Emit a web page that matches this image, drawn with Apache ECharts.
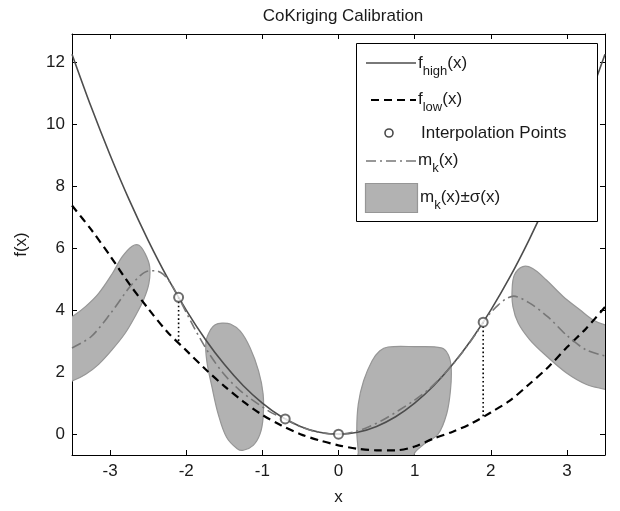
<!DOCTYPE html>
<html>
<head>
<meta charset="utf-8">
<script src="https://cdn.jsdelivr.net/npm/echarts@6/dist/echarts.min.js"></script>
<style>
  html, body { margin: 0; padding: 0; background: #fff; }
  #chart { width: 620px; height: 511px; }
</style>
</head>
<body>
<div id="chart"></div>
<script>
// x samples for the two model functions
const xGrid = [-3.5, -3.25, -3, -2.75, -2.5, -2.25, -2, -1.75, -1.5, -1.25, -1, -0.75, -0.5, -0.25, 0,
  0.25, 0.5, 0.75, 1, 1.25, 1.5, 1.75, 2, 2.25, 2.5, 2.75, 3, 3.25, 3.5];
const fHigh = [12.25, 10.56, 9.0, 7.56, 6.25, 5.06, 4.0, 3.06, 2.25, 1.56, 1.0, 0.56, 0.25, 0.06, 0,
  0.06, 0.25, 0.56, 1.0, 1.56, 2.25, 3.06, 4.0, 5.06, 6.25, 7.56, 9.0, 10.56, 12.25];
const fLow = [7.37, 6.6, 5.75, 4.85, 4.05, 3.3, 2.7, 2.1, 1.55, 1.05, 0.62, 0.28, 0.0, -0.2, -0.36,
  -0.47, -0.52, -0.52, -0.4, -0.14, 0.08, 0.35, 0.7, 1.08, 1.6, 2.15, 2.8, 3.4, 4.1];

// kriging mean
const mkX = [-3.5, -3.25, -3, -2.75, -2.6, -2.5, -2.4, -2.3, -2.2, -2.1, -1.9, -1.7, -1.5, -1.3, -1.1,
  -0.9, -0.7, -0.5, -0.3, -0.1, 0, 0.2, 0.4, 0.6, 0.8, 1.0, 1.2, 1.4, 1.6, 1.8, 1.9, 2.0, 2.1, 2.2, 2.3,
  2.5, 2.75, 3.0, 3.25, 3.5];
const mkY = [2.78, 3.14, 3.87, 4.72, 5.12, 5.26, 5.27, 5.15, 4.85, 4.41, 3.45, 2.6, 1.92, 1.42, 1.05,
  0.72, 0.49, 0.24, 0.08, 0.01, 0, 0.07, 0.24, 0.48, 0.78, 1.1, 1.48, 1.97, 2.55, 3.22, 3.61, 3.92, 4.17,
  4.36, 4.45, 4.24, 3.78, 3.18, 2.72, 2.52];

// interpolation points
const ptX = [-2.1, -0.7, 0, 1.9];
const ptY = [4.41, 0.49, 0, 3.61];

// dotted drops: x, top, bottom
const drops = [[-2.1, 4.41, 3.0], [1.9, 3.61, 0.54]];

// m_k(x) +- sigma(x) regions, outline vertices [x, y]
const band1 = [[-3.6, 3.68], [-3.49, 3.8], [-3.32, 4.12], [-3.15, 4.54], [-2.97, 5.18], [-2.84, 5.72],
  [-2.71, 6.06], [-2.62, 6.09], [-2.54, 5.82], [-2.48, 5.4], [-2.49, 4.86], [-2.56, 4.33], [-2.67, 3.8],
  [-2.8, 3.26], [-2.97, 2.73], [-3.15, 2.25], [-3.32, 1.93], [-3.49, 1.72], [-3.6, 1.66]];
const band2 = [[-1.53, 3.58], [-1.42, 3.55], [-1.29, 3.32], [-1.16, 2.78], [-1.05, 2.04], [-0.99, 1.29],
  [-0.99, 0.54], [-1.03, 0.01], [-1.12, -0.36], [-1.25, -0.52], [-1.33, -0.47], [-1.47, -0.1],
  [-1.58, 0.65], [-1.66, 1.5], [-1.73, 2.36], [-1.74, 3.0], [-1.68, 3.37], [-1.62, 3.53]];
const band3 = [[0.65, 2.81], [1.0, 2.82], [1.35, 2.78], [1.44, 2.57], [1.48, 2.14], [1.47, 1.4],
  [1.42, 0.65], [1.31, 0.01], [1.13, -0.31], [1.0, -0.6], [0.98, -0.8], [0.26, -0.8], [0.26, -0.58],
  [0.24, 0.12], [0.26, 0.97], [0.33, 1.72], [0.44, 2.36], [0.54, 2.68]];
const band4 = [[2.42, 5.4], [2.55, 5.34], [2.73, 4.97], [2.95, 4.44], [3.17, 4.01], [3.34, 3.69],
  [3.49, 3.53], [3.6, 3.5], [3.6, 1.4], [3.49, 1.45], [3.25, 1.61], [2.99, 1.98], [2.73, 2.52],
  [2.51, 3.05], [2.36, 3.58], [2.29, 4.12], [2.28, 4.65], [2.31, 5.13]];
const bands = [band1, band2, band3, band4];

const xTicks = [-3, -2, -1, 0, 1, 2, 3];
const yTicks = [0, 2, 4, 6, 8, 10, 12];

const FONT = "'Liberation Sans', Arial, sans-serif";
const pair = (xs, ys) => xs.map((x, i) => [x, ys[i]]);

const chart = echarts.init(document.getElementById("chart"));

const baseAxis = {
  type: "value",
  axisLine: { show: true, onZero: false, lineStyle: { color: "#000", width: 1 } },
  axisTick: { show: true, inside: true, length: 5, lineStyle: { color: "#000" } },
  splitLine: { show: false }
};

const legendText = (x, y, rich) => ({
  type: "text",
  x: x,
  y: y,
  style: {
    text: rich,
    verticalAlign: "middle",
    rich: {
      a: { fontFamily: FONT, fontSize: 17, fill: "#1a1a1a" },
      b: { fontFamily: FONT, fontSize: 13, fill: "#1a1a1a", padding: [16, 0, 0, 0] }
    }
  },
  z: 101
});

const option = {
  animation: false,
  backgroundColor: "#fff",
  title: {
    text: "CoKriging Calibration",
    left: 338,
    textAlign: "center",
    top: 3,
    textStyle: { fontFamily: FONT, fontSize: 17, fontWeight: "normal", color: "#1a1a1a" }
  },
  grid: { left: 72, right: 15, top: 34, bottom: 53 },
  xAxis: [
    Object.assign({}, baseAxis, {
      min: -3.5, max: 3.5,
      name: "x", nameLocation: "middle", nameGap: 34,
      nameTextStyle: { fontFamily: FONT, fontSize: 17, color: "#1a1a1a" },
      axisTick: Object.assign({}, baseAxis.axisTick, { customValues: xTicks }),
      axisLabel: { customValues: xTicks, margin: 8, fontFamily: FONT, fontSize: 17, color: "#1a1a1a" }
    }),
    Object.assign({}, baseAxis, {
      position: "top", min: -3.5, max: 3.5,
      axisTick: Object.assign({}, baseAxis.axisTick, { customValues: xTicks }),
      axisLabel: { show: false }
    })
  ],
  yAxis: [
    Object.assign({}, baseAxis, {
      min: -0.672, max: 12.9,
      name: "f(x)", nameLocation: "middle", nameGap: 42,
      nameTextStyle: { fontFamily: FONT, fontSize: 17, color: "#1a1a1a" },
      axisTick: Object.assign({}, baseAxis.axisTick, { customValues: yTicks }),
      axisLabel: { customValues: yTicks, margin: 7, fontFamily: FONT, fontSize: 17, color: "#1a1a1a" }
    }),
    Object.assign({}, baseAxis, {
      position: "right", min: -0.672, max: 12.9,
      axisTick: Object.assign({}, baseAxis.axisTick, { customValues: yTicks }),
      axisLabel: { show: false }
    })
  ],
  series: [
    {
      name: "band",
      type: "custom",
      z: 1,
      data: bands.map((b, i) => [b[0][0], b[0][1], i]),
      renderItem: function (params, api) {
        const pts = bands[params.dataIndex].map(p => api.coord(p));
        const cs = params.coordSys;
        return {
          type: "polygon",
          shape: { points: pts, smooth: 0.35 },
          style: { fill: "#b2b2b2", stroke: "#969696", lineWidth: 1.2 },
          clipPath: { type: "rect", shape: { x: cs.x, y: cs.y, width: cs.width, height: cs.height } }
        };
      }
    },
    {
      name: "flow",
      type: "line",
      z: 3,
      data: pair(xGrid, fLow),
      smooth: 0.3,
      symbol: "none",
      lineStyle: { color: "#000", width: 2.2, type: [8, 5] }
    },
    {
      name: "fhigh",
      type: "line",
      z: 4,
      data: pair(xGrid, fHigh),
      smooth: 0.3,
      symbol: "none",
      lineStyle: { color: "#4d4d4d", width: 1.6 }
    },
    {
      name: "mk",
      type: "line",
      z: 5,
      data: pair(mkX, mkY),
      smooth: 0.3,
      symbol: "none",
      lineStyle: { color: "#777", width: 1.6, type: [10, 4, 2, 4] }
    }
  ].concat(drops.map(d => ({
    type: "line",
    z: 6,
    data: [[d[0], d[1]], [d[0], d[2]]],
    symbol: "none",
    lineStyle: { color: "#000", width: 1.6, type: [1.6, 2.6] }
  }))).concat([
    {
      name: "points",
      type: "scatter",
      z: 7,
      data: pair(ptX, ptY),
      symbol: "emptyCircle",
      symbolSize: 9,
      itemStyle: { color: "#4a4a4a", borderColor: "#4a4a4a", borderWidth: 1.6 }
    }
  ]),
  graphic: [
    { type: "rect", shape: { x: 356.5, y: 43.5, width: 241, height: 178 },
      style: { fill: "#fff", stroke: "#000", lineWidth: 1 }, z: 100 },
    { type: "line", shape: { x1: 366, y1: 63, x2: 416, y2: 63 },
      style: { stroke: "#4d4d4d", lineWidth: 1.6 }, z: 101 },
    legendText(418, 63, "{a|f}{b|high}{a|(x)}"),
    { type: "line", shape: { x1: 371, y1: 100, x2: 416, y2: 100 },
      style: { stroke: "#000", lineWidth: 2.2, lineDash: [8, 5] }, z: 101 },
    legendText(418, 99, "{a|f}{b|low}{a|(x)}"),
    { type: "circle", shape: { cx: 389, cy: 133, r: 4 },
      style: { fill: "#fff", stroke: "#4a4a4a", lineWidth: 1.6 }, z: 101 },
    legendText(421, 133, "{a|Interpolation Points}"),
    { type: "line", shape: { x1: 366, y1: 161, x2: 416, y2: 161 },
      style: { stroke: "#777", lineWidth: 1.6, lineDash: [10, 4, 2, 4] }, z: 101 },
    legendText(418, 160, "{a|m}{b|k}{a|(x)}"),
    { type: "rect", shape: { x: 365.5, y: 183.5, width: 52, height: 29 },
      style: { fill: "#b2b2b2", stroke: "#969696", lineWidth: 1.2 }, z: 101 },
    legendText(420, 197, "{a|m}{b|k}{a|(x)±σ(x)}")
  ]
};

chart.setOption(option);
</script>
</body>
</html>
